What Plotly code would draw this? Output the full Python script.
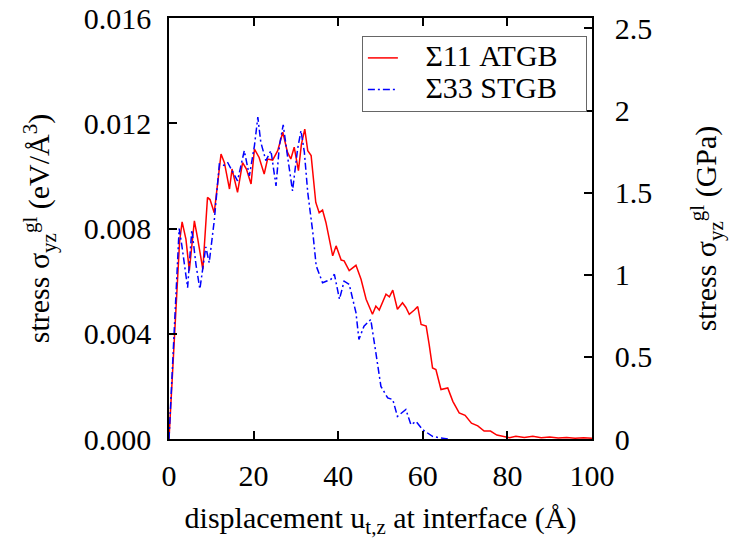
import plotly.graph_objects as go

# Σ11 ATGB (red, solid)
red_x = [0, 0.5, 1.0, 1.5, 2.0, 2.5, 3.1, 4.0, 4.8, 6.0, 6.8, 8.0, 9.1, 9.7, 10.7, 11.5, 12.3, 13.1, 14.3, 14.9,
         16.2, 17.4, 18.3, 19.4, 20.2, 21.3, 22.5, 23.3, 24.5, 25.7, 26.9, 28.0, 28.8, 29.6, 30.6, 31.3, 32.1, 32.8,
         33.6, 34.7, 35.5, 36.3, 37.1, 38.7, 39.5, 40.7, 41.4, 42.6, 43.4, 44.2, 45.4, 46.6, 48.1, 48.9, 49.7, 51.3,
         52.1, 52.9, 54.0, 55.2, 56.0, 56.8, 58.0, 58.8, 59.6, 60.8, 61.5, 62.3, 63.1, 64.3, 65.9, 67.1, 68.6, 70.0,
         71.5, 73.0, 74.5, 76.0, 77.5, 79.0, 80.5, 82, 84, 86, 88, 90, 92, 94, 96, 98, 100]
red_y = [0, 0.0015, 0.003, 0.0045, 0.0062, 0.0075, 0.00825, 0.0076, 0.0064, 0.00829, 0.0076, 0.00645, 0.00918,
         0.0091, 0.0086, 0.00975, 0.01083, 0.0105, 0.0095, 0.01026, 0.00937, 0.0105, 0.01026, 0.00969, 0.01102,
         0.0107, 0.01007, 0.01064, 0.0106, 0.01096, 0.01166, 0.0109, 0.01064, 0.01109, 0.0102, 0.0112, 0.01178,
         0.01096, 0.01077, 0.00899, 0.0086, 0.0087, 0.00823, 0.00696, 0.00734, 0.0068, 0.00677, 0.0064, 0.0065,
         0.0066, 0.00607, 0.00531, 0.00474, 0.00505, 0.0049, 0.0055, 0.0054, 0.00566, 0.00493, 0.00518, 0.0050,
         0.00474, 0.0049, 0.00503, 0.00435, 0.00429, 0.0036, 0.0027, 0.00264, 0.00188, 0.00194, 0.00143, 0.00099,
         0.0009, 0.0006, 0.0005, 0.0003, 0.0003, 0.00015, 0.0001, 0.00005, 0.0001, 0.00006, 0.0001, 0.00005,
         0.00008, 0.00004, 0.00006, 0.00003, 0.00005, 0.00003]

# Σ33 STGB (blue, dash-dot)
blue_x = [0, 0.6, 1.2, 1.8, 2.4, 3.0, 3.6, 4.4, 5.4, 6.4, 7.3, 8.7, 9.5, 10.7, 11.9, 13.0, 13.9, 14.7, 16.2, 17.8,
          19.0, 20.2, 21.0, 21.7, 22.9, 24.1, 25.3, 26.1, 27.0, 28.0, 29.2, 30.4, 31.2, 32.0, 32.8, 34.0, 34.8, 36.3,
          38.3, 39.1, 40.3, 41.4, 42.6, 44.2, 44.9, 46.1, 47.7, 48.9, 50.1, 51.7, 52.9, 54.0, 56.0, 57.2, 58.4, 60.0,
          62.3, 63.9, 66.0]
blue_y = [0, 0.002, 0.004, 0.006, 0.008, 0.0074, 0.0066, 0.00575, 0.00795, 0.0066, 0.0057, 0.0073, 0.0067, 0.0083,
          0.01045, 0.0104, 0.0105, 0.01026, 0.00981, 0.01096, 0.0100, 0.01115, 0.01223, 0.01128, 0.01058, 0.01096,
          0.00962, 0.01115, 0.01194, 0.01077, 0.00943, 0.01102, 0.01172, 0.0109, 0.00937, 0.00785, 0.00658, 0.00594,
          0.00607, 0.00626, 0.00531, 0.0060, 0.00588, 0.0048, 0.00378, 0.00429, 0.00454, 0.00328, 0.0020, 0.00156,
          0.0015, 0.00086, 0.00112, 0.00054, 0.00067, 0.00035, 0.0001, 0.00005, 0]

series_names = ["Σ11 ATGB", "Σ33 STGB"]
x_ticks = [0, 20, 40, 60, 80, 100]
left_ticks = [0.000, 0.004, 0.008, 0.012, 0.016]
right_ticks = [0, 0.5, 1, 1.5, 2, 2.5]
right_tick_labels = ["0", "0.5", "1", "1.5", "2", "2.5"]
EV_A3_TO_GPA = 160.2177

FONT = "Liberation Serif"
FS = 30
PAD = "&nbsp;" * 3


def big(t):
    return f'<span style="font-size:30px">{PAD}{t}{PAD}</span>'


fig = go.Figure()
fig.add_trace(go.Scatter(x=red_x, y=red_y, mode="lines", name=big(series_names[0]),
                         line=dict(color="#ff0000", width=1.5)))
fig.add_trace(go.Scatter(x=blue_x, y=blue_y, mode="lines", name=big(series_names[1]),
                         line=dict(color="#0000ff", width=1.5, dash="7px,3px,2px,3px")))
# invisible trace to carry the GPa axis
fig.add_trace(go.Scatter(x=red_x, y=[v * EV_A3_TO_GPA for v in red_y], yaxis="y2", mode="lines",
                         opacity=0, showlegend=False, hoverinfo="skip", line=dict(width=0)))

axis_common = dict(showline=True, linecolor="black", linewidth=1.5, ticks="inside", ticklen=8,
                   tickwidth=1.5, tickcolor="black", showgrid=False, zeroline=False, automargin=False,
                   ticklabeloverflow="allow",
                   tickfont=dict(family=FONT, size=FS, color="black"))

fig.update_layout(
    width=731, height=540,
    paper_bgcolor="white", plot_bgcolor="white",
    margin=dict(l=169, r=139, t=18, b=101),
    font=dict(family=FONT, size=FS, color="black"),
    xaxis=dict(range=[0, 100], tickvals=x_ticks, mirror="ticks", ticklabelstandoff=9,
               title=dict(text="displacement u<sub>t,z</sub> at interface (Å)", standoff=16,
                          font=dict(family=FONT, size=FS)),
               **axis_common),
    yaxis=dict(range=[0, 0.016], tickvals=left_ticks, tickformat=".3f", ticklabelstandoff=10,
               title=dict(text="stress σ<sub>yz</sub><sup>gl</sup> (eV/Å<sup>3</sup>)", standoff=25,
                          font=dict(family=FONT, size=FS)),
               **axis_common),
    yaxis2=dict(range=[0, 0.016 * EV_A3_TO_GPA], tickvals=right_ticks, ticktext=right_tick_labels,
                overlaying="y", side="right", ticklabelstandoff=15,
                title=dict(text="stress σ<sub>yz</sub><sup>gl</sup> (GPa)", standoff=44,
                           font=dict(family=FONT, size=FS)),
                **axis_common),
    legend=dict(x=0.456, y=0.957, xanchor="left", yanchor="top", bgcolor="white",
                bordercolor="#666", borderwidth=1, font=dict(family=FONT, size=22),
                tracegroupgap=0),
    showlegend=True,
)

fig.write_html("out.html", config={"displayModeBar": False},
               post_script="document.body.style.margin='0';")
